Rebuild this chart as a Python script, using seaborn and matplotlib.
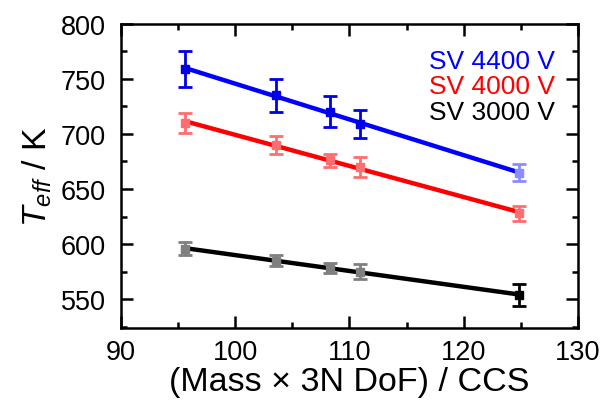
import numpy as np
import seaborn as sns
import matplotlib
matplotlib.use("Agg")
import matplotlib.pyplot as plt

# data
x = [95.6, 103.6, 108.3, 110.9, 124.8]
t_4400 = [759, 735, 720, 709, 665]
e_4400 = [16, 15, 14, 13, 8]
t_4000 = [710, 690, 676, 670, 628]
e_4000 = [9, 8, 6, 9, 7]
t_3000 = [596, 585, 578, 575, 554]
e_3000 = [6, 5, 4.5, 7, 10]

labels = ["SV 4400 V", "SV 4000 V", "SV 3000 V"]
line_colors = ["#0000ff", "#ff0000", "#000000"]
point_colors = [
    ["#0000e6", "#0000e6", "#0000e6", "#0000e6", "#8c8cff"],
    ["#ff6e6e", "#ff6e6e", "#ff6e6e", "#ff6e6e", "#ff6e6e"],
    ["#7f7f7f", "#7f7f7f", "#7f7f7f", "#7f7f7f", "#000000"],
]

sns.set_theme(style="ticks")
plt.rcParams["font.family"] = ["Liberation Sans", "DejaVu Sans"]
plt.rcParams["mathtext.fontset"] = "custom"
plt.rcParams["mathtext.it"] = "Liberation Sans:italic"
plt.rcParams["mathtext.rm"] = "Liberation Sans"
plt.rcParams["axes.labelcolor"] = "black"
plt.rcParams["text.color"] = "black"

fig = plt.figure(figsize=(6.02, 4.06), dpi=100)
ax = fig.add_axes([0.201, 0.19, 0.759, 0.749])

series = [(t_4400, e_4400), (t_4000, e_4000), (t_3000, e_3000)]
for (t, e), lc, pcs in zip(series, line_colors, point_colors):
    sns.regplot(x=np.array(x), y=np.array(t), ax=ax, scatter=False, ci=None,
                truncate=True, color=lc, line_kws={"linewidth": 3.2, "zorder": 2})
    for xi, ti, ei, c in zip(x, t, e, pcs):
        ax.errorbar(xi, ti, yerr=ei, fmt="s", color=c, ms=6, elinewidth=2,
                    capsize=5, capthick=2, zorder=3)

for i, (lab, c) in enumerate(zip(labels, line_colors)):
    ax.text(0.95, 0.878 - 0.084 * i, lab, color=c, fontsize=19,
            ha="right", va="center", transform=ax.transAxes)

ax.set_xlim(90, 130)
ax.set_ylim(524, 800)
ax.set_xticks([90, 100, 110, 120, 130])
ax.set_xticks([95, 105, 115, 125], minor=True)
ax.set_yticks([550, 600, 650, 700, 750, 800])
ax.set_yticks([525, 575, 625, 675, 725, 775], minor=True)
ax.tick_params(which="both", direction="in", top=True, right=True,
               width=1.8, colors="black", labelsize=19.5)
ax.tick_params(which="major", length=8.5)
ax.tick_params(which="minor", length=4.5)
ax.tick_params(axis="x", pad=8)
ax.tick_params(axis="y", pad=11)
for sp in ax.spines.values():
    sp.set_linewidth(1.8)
    sp.set_color("black")

ax.set_xlabel("(Mass × 3N DoF) / CCS", fontsize=24.5, labelpad=1, color="black")
ax.set_ylabel("$T_{eff}$ / K", fontsize=24.5, labelpad=5, color="black")

fig.savefig("out.png", dpi=100)
